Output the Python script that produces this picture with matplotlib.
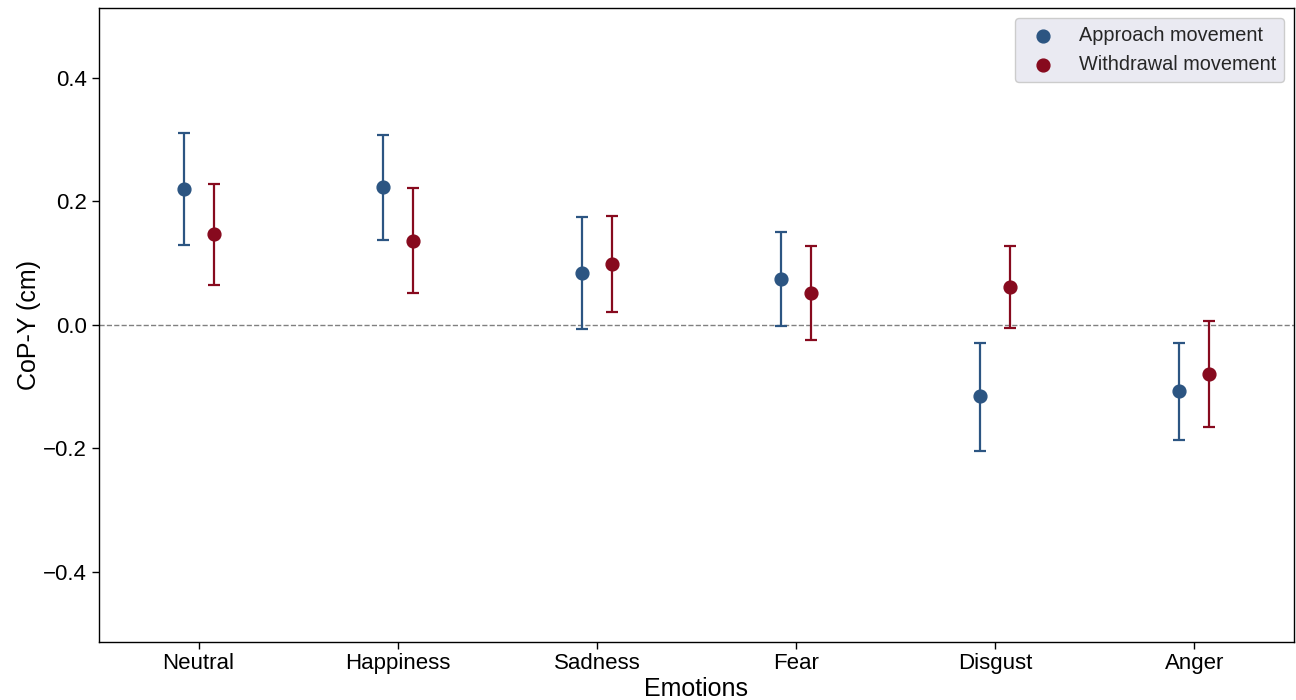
import matplotlib
matplotlib.use("Agg")
import matplotlib.pyplot as plt
import numpy as np

plt.rcParams['font.family'] = ['Liberation Sans', 'DejaVu Sans']

# Datos
emociones = ["Neutral", "Happiness", "Sadness", "Fear", "Disgust", "Anger"]

approach_media = [0.220, 0.223, 0.084, 0.074, -0.116, -0.107]
approach_sup = [0.310, 0.307, 0.175, 0.150, -0.029, -0.029]
approach_inf = [0.129, 0.137, -0.006, -0.002, -0.204, -0.186]

withdrawal_media = [0.147, 0.136, 0.099, 0.052, 0.061, -0.079]
withdrawal_sup = [0.228, 0.221, 0.176, 0.128, 0.128, 0.006]
withdrawal_inf = [0.065, 0.052, 0.021, -0.024, -0.005, -0.165]

color_approach = "#2c5582"
color_withdrawal = "#870a1e"

fig = plt.figure(figsize=(12.96, 7), dpi=100)
ax = fig.add_axes([0.0764, 0.0833, 0.922, 0.9053])

x = np.arange(len(emociones))
desplaz = 0.075

series = [
    ("Approach movement", approach_media, approach_inf, approach_sup, color_approach, -desplaz),
    ("Withdrawal movement", withdrawal_media, withdrawal_inf, withdrawal_sup, color_withdrawal, desplaz),
]

handles = []
for nombre, media, inf, sup, color, dx in series:
    media = np.array(media)
    err = [media - np.array(inf), np.array(sup) - media]
    ax.errorbar(x + dx, media, yerr=err, fmt='none', ecolor=color,
                elinewidth=1.6, capsize=4.5, capthick=1.6, zorder=2)
    h = ax.scatter(x + dx, media, s=85, color=color, zorder=3, label=nombre)
    handles.append(h)

ax.axhline(0, color='gray', linestyle='--', linewidth=1, zorder=1)

ax.set_xlim(-0.5, 5.5)
ax.set_ylim(-0.513, 0.513)
ax.set_xticks(x)
ax.set_xticklabels(emociones)
ax.set_yticks([-0.4, -0.2, 0.0, 0.2, 0.4])
ax.tick_params(axis='both', labelsize=16, direction='out', length=5, width=1, colors='black')

ax.set_xlabel("Emotions", fontsize=18, labelpad=2)
ax.set_ylabel("CoP-Y (cm)", fontsize=18, labelpad=2)

for s in ax.spines.values():
    s.set_color('black')
    s.set_linewidth(1)

leg = ax.legend(handles=handles, loc='upper right', fontsize=14.3, frameon=True,
                facecolor='#eaeaf2', edgecolor='#cccccc', framealpha=1,
                handletextpad=0.8, borderaxespad=0.5)
for t in leg.get_texts():
    t.set_color('#262626')

fig.savefig("out.png", dpi=100)
